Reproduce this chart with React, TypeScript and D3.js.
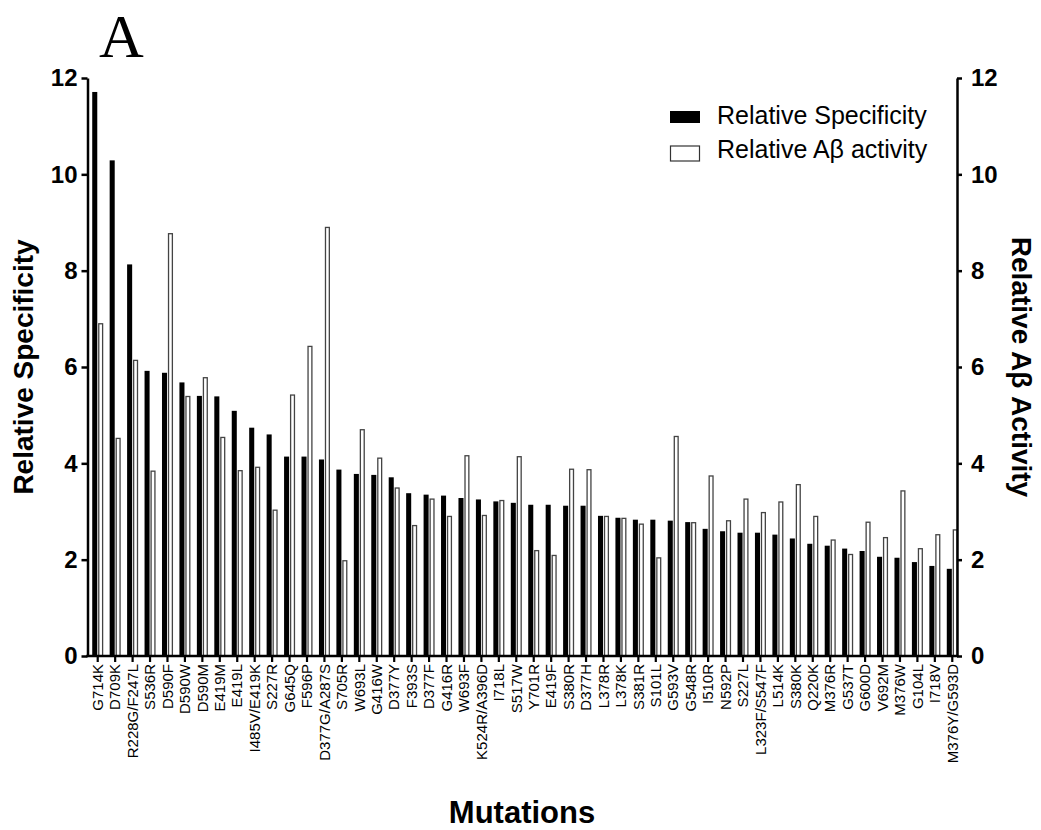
import { useEffect, useRef } from 'react';
import * as d3 from 'd3';

const mutations = [
  'G714K', 'D709K', 'R228G/F247L', 'S536R', 'D590F', 'D590W', 'D590M', 'E419M', 'E419L', 'I485V/E419K',
  'S227R', 'G645Q', 'F596P', 'D377G/A287S', 'S705R', 'W693L', 'G416W', 'D377Y', 'F393S', 'D377F',
  'G416R', 'W693F', 'K524R/A396D', 'I718L', 'S517W', 'Y701R', 'E419F', 'S380R', 'D377H', 'L378R',
  'L378K', 'S381R', 'S101L', 'G593V', 'G548R', 'I510R', 'N592P', 'S227L', 'L323F/S547F', 'L514K',
  'S380K', 'Q220K', 'M376R', 'G537T', 'G600D', 'V692M', 'M376W', 'G104L', 'I718V', 'M376Y/G593D',
];

const relativeSpecificity = [
  11.71, 10.29, 8.13, 5.92, 5.88, 5.68, 5.40, 5.39, 5.09, 4.74,
  4.60, 4.14, 4.14, 4.08, 3.87, 3.78, 3.76, 3.71, 3.38, 3.35,
  3.33, 3.28, 3.25, 3.21, 3.18, 3.14, 3.14, 3.12, 3.12, 2.91,
  2.87, 2.83, 2.83, 2.81, 2.78, 2.64, 2.59, 2.56, 2.56, 2.52,
  2.44, 2.33, 2.29, 2.23, 2.18, 2.06, 2.04, 1.95, 1.87, 1.81,
];

const relativeAbetaActivity = [
  6.91, 4.53, 6.15, 3.85, 8.78, 5.40, 5.79, 4.55, 3.86, 3.93,
  3.04, 5.43, 6.44, 8.91, 1.99, 4.71, 4.12, 3.50, 2.72, 3.27,
  2.91, 4.17, 2.93, 3.24, 4.15, 2.20, 2.10, 3.89, 3.88, 2.91,
  2.87, 2.75, 2.05, 4.57, 2.78, 3.75, 2.82, 3.27, 2.99, 3.21,
  3.57, 2.91, 2.42, 2.12, 2.79, 2.47, 3.44, 2.24, 2.53, 2.63,
];

const yTicks = [0, 2, 4, 6, 8, 10, 12];
const seriesKeys = ['spec', 'abeta'];
const seriesNames = ['Relative Specificity', 'Relative Aβ activity'];

const FONT = "Arial, 'Liberation Sans', sans-serif";

const App = () => {
  const ref = useRef<SVGSVGElement>(null);

  useEffect(() => {
    const svg = d3.select(ref.current);
    svg.selectAll('*').remove();

    const left = 87.5;
    const right = 957;
    const bottom = 656;
    const top = 78;

    const xScale = d3.scaleBand<string>()
      .domain(mutations)
      .range([89, 961])
      .paddingInner(0.37)
      .paddingOuter(0.185);
    const subScale = d3.scaleBand<string>()
      .domain(seriesKeys)
      .range([0, xScale.bandwidth()])
      .paddingInner(0.15);
    const yScale = d3.scaleLinear().domain([0, 12]).range([bottom, top]);

    const rows = mutations.map((m, i) => ({
      m,
      spec: relativeSpecificity[i],
      abeta: relativeAbetaActivity[i],
    }));

    // bars
    const g = svg.append('g');
    g.selectAll('rect.spec').data(rows).enter().append('rect')
      .attr('class', 'spec')
      .attr('x', d => (xScale(d.m) as number) + (subScale('spec') as number))
      .attr('y', d => yScale(d.spec))
      .attr('width', subScale.bandwidth())
      .attr('height', d => bottom - yScale(d.spec))
      .attr('fill', '#000');

    g.selectAll('rect.abeta').data(rows).enter().append('rect')
      .attr('class', 'abeta')
      .attr('x', d => (xScale(d.m) as number) + (subScale('abeta') as number) + 0.6)
      .attr('y', d => yScale(d.abeta) + 0.6)
      .attr('width', subScale.bandwidth() - 1.2)
      .attr('height', d => bottom - yScale(d.abeta) - 0.6)
      .attr('fill', '#fff')
      .attr('stroke', '#444')
      .attr('stroke-width', 1.3);

    // left axis
    const yAxisL = svg.append('g')
      .attr('transform', `translate(${left},0)`)
      .call(d3.axisLeft(yScale).tickValues(yTicks).tickSize(6).tickSizeOuter(0).tickPadding(4));
    yAxisL.select('.domain').attr('stroke-width', 2.5);
    yAxisL.selectAll('.tick line').attr('stroke-width', 2.5);
    yAxisL.selectAll('.tick text')
      .style('font-family', FONT).style('font-size', '24px').style('font-weight', 'bold');

    // right axis
    const yAxisR = svg.append('g')
      .attr('transform', `translate(${right},0)`)
      .call(d3.axisRight(yScale).tickValues(yTicks).tickSize(5).tickSizeOuter(0).tickPadding(9));
    yAxisR.select('.domain').attr('stroke-width', 2.5);
    yAxisR.selectAll('.tick line').attr('stroke-width', 2.5);
    yAxisR.selectAll('.tick text')
      .style('font-family', FONT).style('font-size', '24px').style('font-weight', 'bold');

    // x axis
    const xAxis = svg.append('g')
      .attr('transform', `translate(0,${bottom})`)
      .call(d3.axisBottom(xScale).tickSize(6).tickSizeOuter(0));
    xAxis.select('.domain').remove();
    xAxis.selectAll('.tick line').attr('stroke-width', 2.2);
    xAxis.selectAll('.tick text')
      .attr('transform', 'rotate(-90)')
      .attr('x', -8)
      .attr('y', 0)
      .attr('dy', '0.35em')
      .style('text-anchor', 'end')
      .style('font-family', FONT)
      .style('font-size', '15px');
    xAxis.append('line')
      .attr('x1', left - 1.25).attr('x2', right + 1.25)
      .attr('y1', 0).attr('y2', 0)
      .attr('stroke', '#000').attr('stroke-width', 2.5);

    // legend
    const legend = svg.append('g');
    legend.append('rect')
      .attr('x', 670).attr('y', 111).attr('width', 30).attr('height', 12)
      .attr('fill', '#000');
    legend.append('rect')
      .attr('x', 670.5).attr('y', 146).attr('width', 29).attr('height', 15)
      .attr('fill', '#fff').attr('stroke', '#333').attr('stroke-width', 1.2);
    legend.selectAll('text').data(seriesNames).enter().append('text')
      .text(d => d)
      .attr('x', 717)
      .attr('y', (d, i) => 124 + i * 34)
      .style('font-family', FONT)
      .style('font-size', '25px')
      .attr('fill', '#000');

    // titles
    svg.append('text').text('A')
      .attr('x', 99).attr('y', 57)
      .style('font-family', "'Times New Roman', 'Liberation Serif', serif")
      .style('font-size', '62px');

    svg.append('text').text('Relative Specificity')
      .attr('transform', `translate(33,${(top + bottom) / 2}) rotate(-90)`)
      .style('text-anchor', 'middle')
      .style('font-family', FONT).style('font-size', '28px').style('font-weight', 'bold');

    svg.append('text').text('Relative Aβ Activity')
      .attr('transform', `translate(1012,${(top + bottom) / 2}) rotate(90)`)
      .style('text-anchor', 'middle')
      .style('font-family', FONT).style('font-size', '28px').style('font-weight', 'bold');

    svg.append('text').text('Mutations')
      .attr('x', 522).attr('y', 823)
      .style('text-anchor', 'middle')
      .style('font-family', FONT).style('font-size', '31px').style('font-weight', 'bold');
  }, []);

  return (
    <div style={{ position: 'absolute', left: 0, top: 0, background: '#fff' }}>
      <svg ref={ref} width={1041} height={830} />
    </div>
  );
};

export default App;
